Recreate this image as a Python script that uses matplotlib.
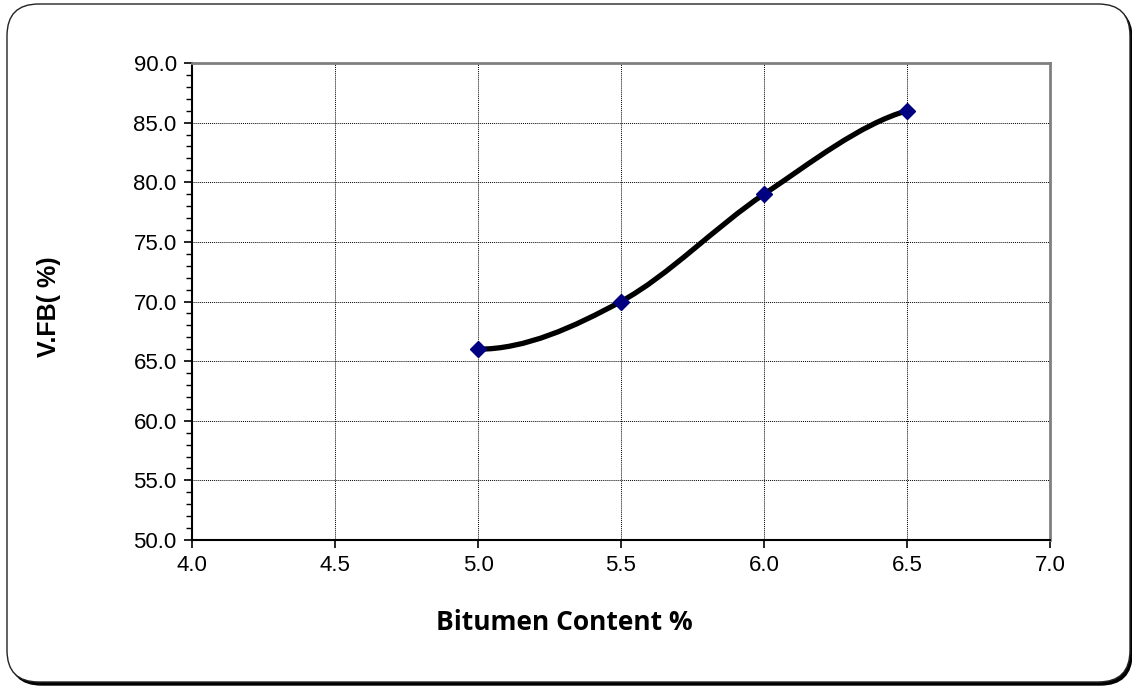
import matplotlib
matplotlib.use("Agg")
import matplotlib.pyplot as plt
from matplotlib.path import Path
from matplotlib.patches import PathPatch, FancyBboxPatch
from matplotlib.ticker import MultipleLocator
import numpy as np

bitumen = [5.0, 5.5, 6.0, 6.5]
vfb = [66.0, 70.0, 79.0, 86.0]
xticks = [4.0, 4.5, 5.0, 5.5, 6.0, 6.5, 7.0]
yticks = [50.0, 55.0, 60.0, 65.0, 70.0, 75.0, 80.0, 85.0, 90.0]

plt.rcParams['font.family'] = ['Liberation Sans', 'DejaVu Sans']

fig = plt.figure(figsize=(11.32, 6.86), dpi=100)

# rounded outer frame with shadow
W, H = 1132, 686
shadow = FancyBboxPatch((10 / W, 1 / H), 1122 / W, 678 / H,
                        boxstyle="round,pad=0,rounding_size=0.028",
                        transform=fig.transFigure, facecolor='black',
                        edgecolor='black', lw=1, zorder=0,
                        mutation_aspect=W / H)
fig.patches.append(shadow)
frame = FancyBboxPatch((7 / W, 4 / H), 1123 / W, 678 / H,
                       boxstyle="round,pad=0,rounding_size=0.028",
                       transform=fig.transFigure, facecolor='white',
                       edgecolor='#222222', lw=1.0, zorder=1,
                       mutation_aspect=W / H)
fig.patches.append(frame)

ax = fig.add_axes([192 / W, 1 - 540 / H, (1050 - 192) / W, (540 - 63) / H])
ax.set_zorder(2)
ax.set_facecolor('white')

ax.set_xlim(xticks[0], xticks[-1])
ax.set_ylim(yticks[0], yticks[-1])
ax.set_xticks(xticks)
ax.set_yticks(yticks)
ax.set_xticklabels([f"{v:.1f}" for v in xticks])
ax.set_yticklabels([f"{v:.1f}" for v in yticks])
ax.yaxis.set_minor_locator(MultipleLocator(1.0))

ax.grid(True, which='major', color='black', linestyle=(0, (1, 1)), linewidth=0.7)
ax.tick_params(axis='both', which='major', direction='out', length=6, width=1.2,
               labelsize=16, pad=5, colors='black')
ax.tick_params(axis='y', which='minor', direction='out', length=4, width=1.0)
ax.tick_params(axis='x', which='minor', length=0)

for s in ['left', 'bottom']:
    ax.spines[s].set_color('black')
    ax.spines[s].set_linewidth(1.5)
for s in ['top', 'right']:
    ax.spines[s].set_color('#808080')
    ax.spines[s].set_linewidth(2.0)

# smoothed (Excel-like) Bezier curve through the data points
P = np.column_stack([bitumen, vfb])
n = len(P)
verts = [tuple(P[0])]
codes = [Path.MOVETO]
for i in range(n - 1):
    p0, p1 = P[i], P[i + 1]
    if i == 0:
        c1 = p0 + np.array([(p1[0] - p0[0]) / 3.0, 0.0])
    else:
        c1 = p0 + (P[i + 1] - P[i - 1]) / 6.0
    if i == n - 2:
        c2 = p1 - np.array([(p1[0] - p0[0]) / 3.0, (p1[1] - p0[1]) / 6.0])
    else:
        c2 = p1 - (P[i + 2] - P[i]) / 6.0
    verts += [tuple(c1), tuple(c2), tuple(p1)]
    codes += [Path.CURVE4] * 3
ax.add_patch(PathPatch(Path(verts, codes), facecolor='none', edgecolor='black',
                       lw=3.8, zorder=3, capstyle='round'))
ax.plot(bitumen, vfb, linestyle='none', marker='D', markersize=8.5,
        markerfacecolor='#000080', markeredgecolor='#000080', zorder=4)

ax.set_xlabel('Bitumen Content %', fontsize=19, fontweight='bold',
              family=['Open Sans', 'DejaVu Sans'])
ax.xaxis.set_label_coords((564 - 192) / (1050 - 192), -(623 - 540) / (540 - 63),
                          transform=None)
ax.xaxis.label.set_verticalalignment('center')
ax.set_ylabel('V.FB( %)', fontsize=18, fontweight='bold')
ax.yaxis.set_label_coords(-(192 - 49) / (1050 - 192), 0.49)
ax.yaxis.label.set_verticalalignment('center')

fig.savefig('out.png', dpi=100)
